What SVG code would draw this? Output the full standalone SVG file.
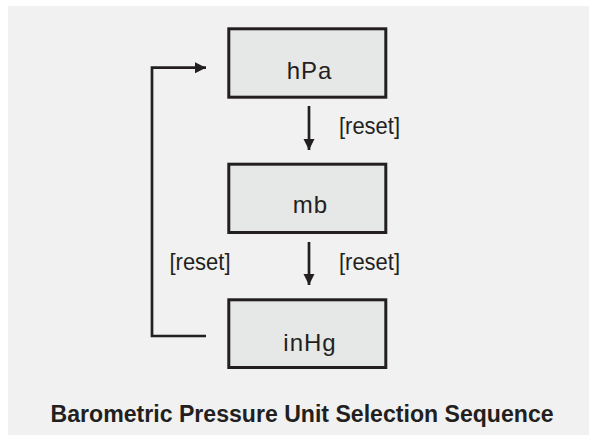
<svg xmlns="http://www.w3.org/2000/svg" width="589" height="435" viewBox="0 0 589 435">
  <style>
    .node rect { fill: #e6e7e7; stroke: #231f20; stroke-width: 3; }
    .node text { font-family: "Liberation Sans", Arial, sans-serif; font-size: 24px; fill: #231f20; letter-spacing: 1px; }
    .conn { fill: none; stroke: #231f20; stroke-width: 2.7; }
    .lbl { font-family: "Liberation Sans", Arial, sans-serif; font-size: 24px; fill: #231f20; }
    .title { font-family: "Liberation Sans", Arial, sans-serif; font-size: 23px; font-weight: bold; fill: #231f20; }
  </style>
  <defs>
    <marker id="arr" markerUnits="userSpaceOnUse" markerWidth="12" markerHeight="12" viewBox="0 0 12 12" refX="11" refY="6" orient="auto">
      <path d="M0,0.5 L11,6 L0,11.5 Z" fill="#231f20"/>
    </marker>
  </defs>
  <rect x="8" y="6" width="581" height="429" fill="#f1f1f1"/>

  <g id="connectors">
    <line class="conn" x1="309" y1="106" x2="309" y2="150" marker-end="url(#arr)"/>
    <line class="conn" x1="309" y1="242" x2="309" y2="285" marker-end="url(#arr)"/>
    <polyline class="conn" points="206,336 152,336 152,67.7 206,67.7" marker-end="url(#arr)"/>
    <text class="lbl" x="339" y="134" textLength="61" lengthAdjust="spacingAndGlyphs">[reset]</text>
    <text class="lbl" x="339" y="270" textLength="61" lengthAdjust="spacingAndGlyphs">[reset]</text>
    <text class="lbl" x="169.5" y="270" textLength="61" lengthAdjust="spacingAndGlyphs">[reset]</text>
  </g>

  <g id="node-hpa" class="node">
    <rect x="228.8" y="28.8" width="157" height="68.4"/>
    <text x="286.7" y="79.3">hPa</text>
  </g>
  <g id="node-mb" class="node">
    <rect x="228.8" y="164.2" width="157" height="68.3"/>
    <text x="292.7" y="213.3">mb</text>
  </g>
  <g id="node-inhg" class="node">
    <rect x="228.8" y="299.8" width="157" height="67.7"/>
    <text x="283.3" y="351">inHg</text>
  </g>

  <text class="title" x="50.6" y="422.3" textLength="503" lengthAdjust="spacingAndGlyphs">Barometric Pressure Unit Selection Sequence</text>
</svg>
